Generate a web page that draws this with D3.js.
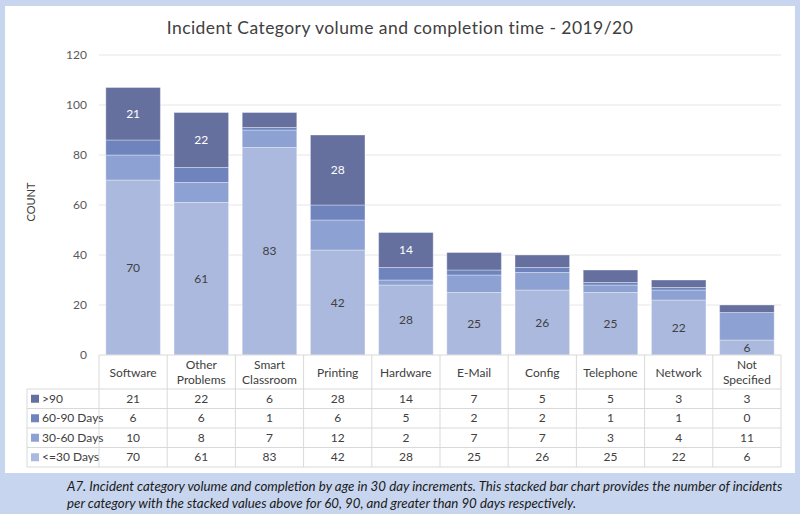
<!DOCTYPE html>
<html><head><meta charset="utf-8">
<script src="https://cdn.jsdelivr.net/npm/d3@7"></script>
<style>body{margin:0;background:#c7d5ee;} svg{display:block;}</style>
</head><body>
<svg id="c" width="800" height="514"></svg>
<script>
const categories = [["Software"],["Other","Problems"],["Smart","Classroom"],["Printing"],["Hardware"],["E-Mail"],["Config"],["Telephone"],["Network"],["Not","Specified"]];
const seriesNames = ["<=30 Days","30-60 Days","60-90 Days",">90"];
const le30 = [70,61,83,42,28,25,26,25,22,6];
const d30_60 = [10,8,7,12,2,7,7,3,4,11];
const d60_90 = [6,6,1,6,5,2,2,1,1,0];
const gt90 = [21,22,6,28,14,7,5,5,3,3];
const yTicks = [0,20,40,60,80,100,120];
const colors = ["#abb9de","#8da1d2","#6f84bd","#66709f"];
const title = "Incident Category volume and completion time - 2019/20";
const caption = ["A7. Incident category volume and completion by age in 30 day increments.  This stacked bar chart provides the number of incidents",
 "per category with the stacked values above for 60, 90, and greater than 90 days respectively."];

const font = "Lato, 'Open Sans', sans-serif";
const svg = d3.select("#c");
svg.append("rect").attr("x",0).attr("y",0).attr("width",800).attr("height",514).attr("fill","#c7d5ee");
svg.append("rect").attr("x",5).attr("y",6).attr("width",790).attr("height",467).attr("fill","#fff");

const keys = categories.map((c,i)=>i);
const data = keys.map(i=>({i, "<=30 Days":le30[i],"30-60 Days":d30_60[i],"60-90 Days":d60_90[i],">90":gt90[i]}));
const stack = d3.stack().keys(seriesNames)(data);

const x = d3.scaleBand().domain(keys).range([99,781]).paddingInner(0.2).paddingOuter(0.1);
const xc = d3.scaleBand().domain(keys).range([99,781]);
const y = d3.scaleLinear().domain([0,120]).range([355,55]);

// title
svg.append("text").attr("x",400).attr("y",34).attr("text-anchor","middle")
  .style("font-family",font).style("font-size","17.5px").style("letter-spacing","0.45px").attr("fill","#404040").text(title);

// grid
svg.append("g").selectAll("line").data(yTicks.filter(t=>t>0)).join("line")
  .attr("x1",99).attr("x2",781).attr("y1",d=>y(d)).attr("y2",d=>y(d))
  .attr("stroke","#e6e6e6").attr("stroke-width",1);
// y tick labels
svg.append("g").selectAll("text").data(yTicks).join("text")
  .attr("x",87).attr("y",d=>y(d)+4).attr("text-anchor","end")
  .style("font-family",font).style("font-size","12px").attr("fill","#595959").text(d=>d);
// y label
svg.append("text").attr("transform","translate(35,202) rotate(-90)").attr("text-anchor","middle")
  .style("font-family",font).style("font-size","11px").attr("fill","#404040").text("COUNT");

// bars
const gS = svg.append("g").selectAll("g").data(stack).join("g").attr("fill",(d,i)=>colors[i]);
gS.selectAll("rect").data(d=>d).join("rect")
  .attr("x",d=>x(d.data.i)).attr("width",x.bandwidth())
  .attr("y",d=>y(d[1])).attr("height",d=>y(d[0])-y(d[1]))
  .attr("stroke","rgba(255,255,255,0.35)").attr("stroke-width",1);

// labels for <=30
svg.append("g").selectAll("text").data(stack[0]).join("text")
  .attr("x",d=>x(d.data.i)+x.bandwidth()/2).attr("y",d=>(y(d[0])+y(d[1]))/2+4)
  .attr("text-anchor","middle").style("font-family",font).style("font-size","12px").attr("fill","#404040")
  .text(d=>d[1]-d[0]);
// labels for >90 (large segments)
svg.append("g").selectAll("text").data(stack[3].filter(d=>d[1]-d[0]>=10)).join("text")
  .attr("x",d=>x(d.data.i)+x.bandwidth()/2).attr("y",d=>(y(d[0])+y(d[1]))/2+4)
  .attr("text-anchor","middle").style("font-family",font).style("font-size","12px").attr("fill","#fff")
  .text(d=>d[1]-d[0]);

// table
const rowTop = 389, rowH = 19.5;
const tableRows = [[">90",gt90,colors[3]],["60-90 Days",d60_90,colors[2]],["30-60 Days",d30_60,colors[1]],["<=30 Days",le30,colors[0]]];
const tg = svg.append("g");
const lc = "#d9d9d9";
tg.append("line").attr("x1",99).attr("x2",781).attr("y1",355).attr("y2",355).attr("stroke",lc);
tg.selectAll("line.v").data(d3.range(11)).join("line").attr("class","v")
  .attr("x1",d=>99+d*xc.step()).attr("x2",d=>99+d*xc.step())
  .attr("y1",355).attr("y2",rowTop+4*rowH).attr("stroke",lc);
tg.append("line").attr("x1",27).attr("x2",27).attr("y1",rowTop).attr("y2",rowTop+4*rowH).attr("stroke",lc);
tg.selectAll("line.h").data(d3.range(5)).join("line").attr("class","h")
  .attr("x1",27).attr("x2",781).attr("y1",d=>rowTop+d*rowH).attr("y2",d=>rowTop+d*rowH).attr("stroke",lc);
categories.forEach((c,i)=>{
  const cx = xc(i)+xc.bandwidth()/2;
  const t = tg.append("text").attr("text-anchor","middle").style("font-family",font).style("font-size","12px").attr("fill","#404040");
  if(c.length===1){ t.append("tspan").attr("x",cx).attr("y",376.5).text(c[0]); }
  else { t.append("tspan").attr("x",cx).attr("y",369).text(c[0]); t.append("tspan").attr("x",cx).attr("y",384).text(c[1]); }
});
tableRows.forEach((r,ri)=>{
  const cy = rowTop+ri*rowH+rowH/2;
  tg.append("rect").attr("x",31).attr("y",cy-4).attr("width",8).attr("height",8).attr("fill",r[2]);
  tg.append("text").attr("x",42).attr("y",cy+4).style("font-family",font).style("font-size","12px").attr("fill","#404040").text(r[0]);
  r[1].forEach((v,i)=>{
    tg.append("text").attr("x",xc(i)+xc.bandwidth()/2).attr("y",cy+4).attr("text-anchor","middle")
      .style("font-family",font).style("font-size","12px").attr("fill","#404040").text(v);
  });
});

// caption
caption.forEach((l,i)=>{
  svg.append("text").attr("x",67).attr("y",491+i*16.5).style("font-family",font).style("font-style","italic")
    .style("font-size","13.3px").attr("fill","#1a1a1a").text(l);
});
</script>
</body></html>
